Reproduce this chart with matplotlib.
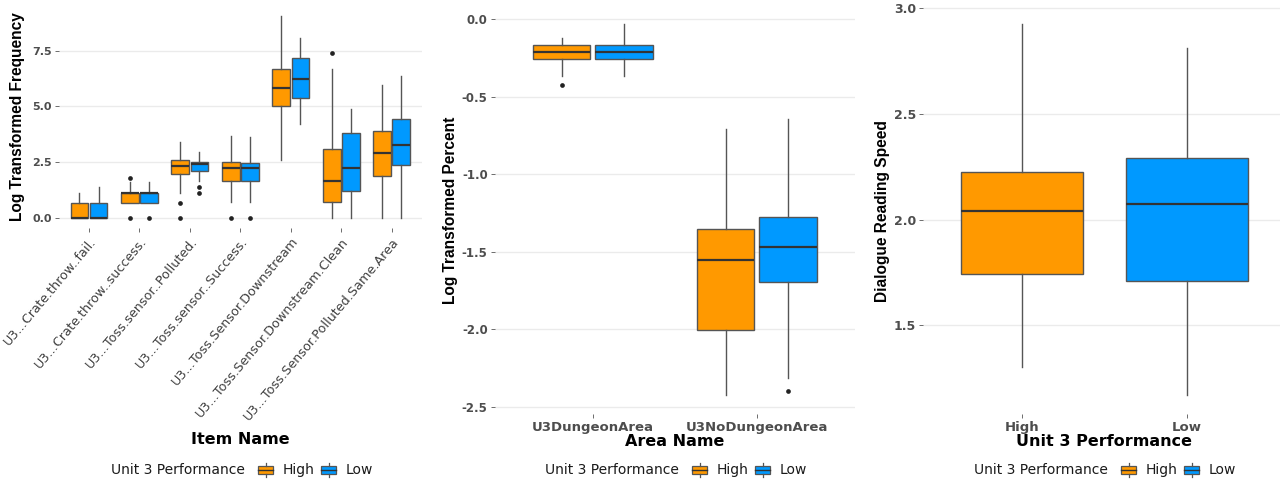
import matplotlib.pyplot as plt
from matplotlib.patches import Rectangle
from matplotlib.lines import Line2D

# -----------------------------
# Data (box summaries)
# -----------------------------
groups = ["High", "Low"]
colors = {"High": "#FF9900", "Low": "#0099FF"}

# panel 1 - item frequency
items = ["U3...Crate.throw..fail.", "U3...Crate.throw..success.",
         "U3...Toss.sensor..Polluted.", "U3...Toss.sensor..Success.",
         "U3...Toss.Sensor.Downstream", "U3...Toss.Sensor.Downstream.Clean",
         "U3...Toss.Sensor.Polluted.Same.Area"]
item_high_q1 = [0.0, 0.69, 1.98, 1.64, 5.01, 0.71, 1.89]
item_high_med = [0.0, 1.10, 2.34, 2.22, 5.82, 1.64, 2.90]
item_high_q3 = [0.69, 1.10, 2.59, 2.49, 6.67, 3.08, 3.90]
item_high_lo = [0.0, 0.69, 1.12, 0.71, 2.60, 0.0, 0.0]
item_high_hi = [1.10, 1.61, 3.39, 3.68, 9.03, 6.67, 5.95]
item_high_out = [[], [0.0, 1.79], [0.0, 0.69], [0.0], [], [7.37], []]

item_low_q1 = [0.0, 0.69, 2.08, 1.64, 5.36, 1.19, 2.38]
item_low_med = [0.0, 1.10, 2.41, 2.22, 6.21, 2.22, 3.26]
item_low_q3 = [0.69, 1.10, 2.49, 2.46, 7.17, 3.82, 4.43]
item_low_lo = [0.0, 0.69, 1.64, 0.71, 4.21, 0.0, 0.0]
item_low_hi = [1.39, 1.61, 2.95, 3.63, 8.08, 4.87, 6.35]
item_low_out = [[], [0.0], [1.39, 1.10], [0.0], [], [], []]

# panel 2 - area percent
areas = ["U3DungeonArea", "U3NoDungeonArea"]
area_high_q1 = [-0.258, -2.004]
area_high_med = [-0.209, -1.551]
area_high_q3 = [-0.166, -1.351]
area_high_lo = [-0.363, -2.428]
area_high_hi = [-0.118, -0.710]
area_high_out = [[-0.424], []]

area_low_q1 = [-0.258, -1.697]
area_low_med = [-0.209, -1.473]
area_low_q3 = [-0.166, -1.273]
area_low_lo = [-0.363, -2.316]
area_low_hi = [-0.032, -0.643]
area_low_out = [[], [-2.402]]

# panel 3 - dialogue reading speed
perf = ["High", "Low"]
speed_q1 = [1.741, 1.707]
speed_med = [2.041, 2.074]
speed_q3 = [2.224, 2.289]
speed_lo = [1.304, 1.167]
speed_hi = [2.924, 2.811]

W, H = 1280, 480


def stats(q1, med, q3, lo, hi, out=None):
    res = []
    for i in range(len(q1)):
        res.append({"q1": q1[i], "med": med[i], "q3": q3[i],
                    "whislo": lo[i], "whishi": hi[i],
                    "fliers": out[i] if out else []})
    return res


def draw_boxes(ax, st, pos, color, width):
    ax.bxp(st, positions=pos, widths=width, patch_artist=True,
           showcaps=False, manage_ticks=False,
           boxprops=dict(facecolor=color, edgecolor="#555555", linewidth=1.0),
           whiskerprops=dict(color="#555555", linewidth=1.0),
           medianprops=dict(color="#333333", linewidth=1.6),
           flierprops=dict(marker="o", markersize=3.4, markerfacecolor="#222222",
                           markeredgecolor="none"))


def px_axes(fig, x0, x1, y0, y1):
    return fig.add_axes([x0 / W, 1 - y1 / H, (x1 - x0) / W, (y1 - y0) / H])


def style(ax, ytick_size):
    for s in ax.spines.values():
        s.set_visible(False)
    ax.grid(axis="y", color="#EBEBEB", linewidth=1.0)
    ax.set_axisbelow(True)
    ax.tick_params(axis="both", length=3, width=0.6, color="#555555",
                   labelcolor="#4D4D4D", pad=2)
    for lab in ax.get_yticklabels():
        lab.set_fontweight("bold")
        lab.set_fontsize(ytick_size)


def expand(lo, hi):
    pad = (hi - lo) * 0.05
    return lo - pad, hi + pad


def legend(fig, x, y):
    fig.text(x / W, 1 - y / H, "Unit 3 Performance", fontsize=10,
             color="#1A1A1A", va="center", ha="left")
    for dx, name in [(147, "High"), (210, "Low")]:
        kx = x + dx
        rect = Rectangle((kx / W, 1 - (y + 4) / H), 15 / W, 8 / H,
                         transform=fig.transFigure, facecolor=colors[name],
                         edgecolor="#555555", linewidth=0.9)
        fig.add_artist(rect)
        fig.add_artist(Line2D([kx / W, (kx + 15) / W], [1 - y / H] * 2,
                              transform=fig.transFigure, color="#333333", lw=1.0))
        cx = (kx + 7.5) / W
        fig.add_artist(Line2D([cx, cx], [1 - (y - 4) / H, 1 - (y - 7) / H],
                              transform=fig.transFigure, color="#555555", lw=0.9))
        fig.add_artist(Line2D([cx, cx], [1 - (y + 4) / H, 1 - (y + 7) / H],
                              transform=fig.transFigure, color="#555555", lw=0.9))
        fig.text((kx + 25) / W, 1 - y / H, name, fontsize=10,
                 color="#1A1A1A", va="center", ha="left")


fig = plt.figure(figsize=(12.8, 4.8), dpi=100)
plt.rcParams["font.family"] = "DejaVu Sans"

off = 0.19
bw = 0.35

# -----------------------------
# Panel 1: Item Name
# -----------------------------
ax1 = px_axes(fig, 58.7, 422, 6.3, 228)
n1 = len(items)
draw_boxes(ax1, stats(item_high_q1, item_high_med, item_high_q3, item_high_lo,
                      item_high_hi, item_high_out),
           [i - off for i in range(n1)], colors["High"], bw)
draw_boxes(ax1, stats(item_low_q1, item_low_med, item_low_q3, item_low_lo,
                      item_low_hi, item_low_out),
           [i + off for i in range(n1)], colors["Low"], bw)
ax1.set_xlim(-0.6, n1 - 0.4)
ax1.set_ylim(*expand(0.0, max(item_high_hi + item_low_hi)))
ax1.set_yticks([0.0, 2.5, 5.0, 7.5])
ax1.set_yticklabels(["0.0", "2.5", "5.0", "7.5"])
ax1.set_xticks(range(n1))
ax1.set_xticklabels(items, rotation=50, ha="right", va="top",
                    rotation_mode="anchor", fontsize=9.2)
style(ax1, 8)
for lab in ax1.get_xticklabels():
    lab.set_color("#404040")

# -----------------------------
# Panel 2: Area Name
# -----------------------------
ax2 = px_axes(fig, 494.6, 855, 5.7, 414)
n2 = len(areas)
draw_boxes(ax2, stats(area_high_q1, area_high_med, area_high_q3, area_high_lo,
                      area_high_hi, area_high_out),
           [i - off for i in range(n2)], colors["High"], bw)
draw_boxes(ax2, stats(area_low_q1, area_low_med, area_low_q3, area_low_lo,
                      area_low_hi, area_low_out),
           [i + off for i in range(n2)], colors["Low"], bw)
ax2.set_xlim(-0.6, n2 - 0.4)
ax2.set_ylim(*expand(min(area_high_lo + area_low_lo), max(area_high_hi + area_low_hi)))
ax2.set_yticks([0.0, -0.5, -1.0, -1.5, -2.0, -2.5])
ax2.set_yticklabels(["0.0", "-0.5", "-1.0", "-1.5", "-2.0", "-2.5"])
ax2.set_xticks(range(n2))
ax2.set_xticklabels(areas, fontsize=9.5, fontweight="bold")
style(ax2, 8.5)

# -----------------------------
# Panel 3: Unit 3 Performance
# -----------------------------
ax3 = px_axes(fig, 923, 1286, 5.8, 414)
for i, g in enumerate(perf):
    draw_boxes(ax3, stats([speed_q1[i]], [speed_med[i]], [speed_q3[i]],
                          [speed_lo[i]], [speed_hi[i]]),
               [i], colors[g], 0.74)
ax3.set_xlim(-0.6, len(perf) - 0.4)
ax3.set_ylim(*expand(min(speed_lo), max(speed_hi)))
ax3.set_yticks([1.5, 2.0, 2.5, 3.0])
ax3.set_yticklabels(["1.5", "2.0", "2.5", "3.0"])
ax3.set_xticks(range(len(perf)))
ax3.set_xticklabels(perf, fontsize=9.5, fontweight="bold")
style(ax3, 9)

# -----------------------------
# Axis titles
# -----------------------------
ytitle = dict(fontsize=11.2, fontweight="bold", family="Liberation Sans",
              rotation=90, ha="center", va="center", color="black")
fig.text(18 / W, 1 - 117 / H, "Log Transformed Frequency", **ytitle)
fig.text(450 / W, 1 - 210 / H, "Log Transformed Percent", **ytitle)
fig.text(882 / W, 1 - 211 / H, "Dialogue Reading Speed", **ytitle)

xtitle = dict(fontsize=11.5, fontweight="bold", ha="center", va="center",
              color="black")
fig.text(240 / W, 1 - 440 / H, "Item Name", **xtitle)
fig.text(675 / W, 1 - 441 / H, "Area Name", **xtitle)
fig.text(1104 / W, 1 - 441 / H, "Unit 3 Performance", **xtitle)

# -----------------------------
# Legends
# -----------------------------
legend(fig, 111, 470)
legend(fig, 545, 470)
legend(fig, 974, 470)

fig.savefig("out.png", dpi=100)
